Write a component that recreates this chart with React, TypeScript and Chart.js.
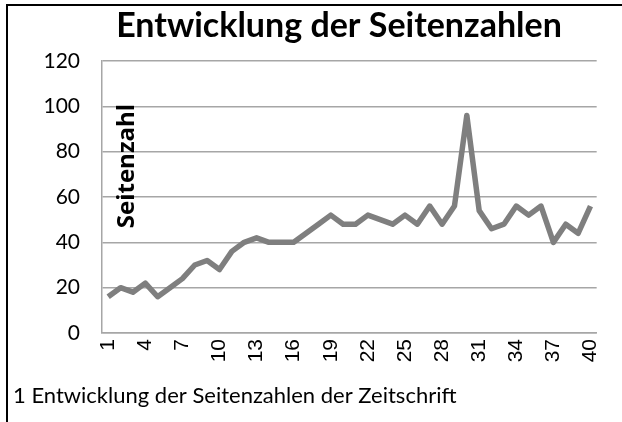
import { useEffect, useRef } from "react";
import { Chart, registerables } from "chart.js";

Chart.register(...registerables);

const issues = ["1","2","3","4","5","6","7","8","9","10","11","12","13","14","15","16","17","18","19","20","21","22","23","24","25","26","27","28","29","30","31","32","33","34","35","36","37","38","39","40"];
const pageCounts = [16,20,18,22,16,20,24,30,32,28,36,40,42,40,40,40,44,48,52,48,48,52,50,48,52,48,56,48,56,96,54,46,48,56,52,56,40,48,44,56];
const shownIssueLabels = ["1","4","7","10","13","16","19","22","25","28","31","34","37","40"];
const yMin = 0;
const yMax = 120;
const yStep = 20;

const chartTitle = "Entwicklung der Seitenzahlen";
const axisTitle = "Seitenzahl";
const caption = "1 Entwicklung der Seitenzahlen der Zeitschrift";

const textPlugin = {
  id: "textPlugin",
  beforeDraw(chart: any) {
    const ctx = chart.ctx;
    ctx.save();
    ctx.fillStyle = "#ffffff";
    ctx.fillRect(0, 0, chart.width, chart.height);
    ctx.strokeStyle = "#000000";
    ctx.lineWidth = 2;
    ctx.beginPath();
    ctx.moveTo(6, 5);
    ctx.lineTo(chart.width, 5);
    ctx.moveTo(7, 4);
    ctx.lineTo(7, chart.height);
    ctx.stroke();
    ctx.restore();
  },
  afterDraw(chart: any) {
    const ctx = chart.ctx;
    ctx.save();
    ctx.fillStyle = "#000000";
    ctx.textBaseline = "middle";
    ctx.textAlign = "center";
    ctx.font = "bold 34px Lato";
    ctx.fillText(chartTitle, 339, 26);

    ctx.textAlign = "left";
    ctx.font = "22px Lato";
    ctx.fillText(caption, 13, 396);

    ctx.translate(127, 166);
    ctx.rotate(-Math.PI / 2);
    ctx.textAlign = "center";
    ctx.font = "bold 24px 'Open Sans'";
    ctx.fillText(axisTitle, 0, 0);
    ctx.restore();
  },
};

export default function App() {
  const ref = useRef<HTMLCanvasElement | null>(null);
  useEffect(() => {
    document.body.style.margin = "0";
    const canvas = ref.current!;
    const chart = new Chart(canvas, {
      type: "line",
      data: {
        labels: issues,
        datasets: [
          {
            data: pageCounts,
            borderColor: "#7f7f7f",
            borderWidth: 5.5,
            borderJoinStyle: "round",
            pointRadius: 0,
            tension: 0,
            fill: false,
          },
        ],
      },
      options: {
        responsive: false,
        animation: false,
        layout: { padding: { left: 0, top: 61, right: 25, bottom: 44 } },
        plugins: { legend: { display: false }, title: { display: false }, tooltip: { enabled: false } },
        scales: {
          x: {
            offset: true,
            grid: { display: false, drawTicks: false },
            border: { display: true, color: "#a6a6a6", width: 1.5 },
            ticks: {
              autoSkip: false,
              minRotation: 90,
              maxRotation: 90,
              padding: 6,
              color: "#000000",
              font: { family: "Liberation Sans", size: 21 },
              callback: (_v: any, i: number) => (shownIssueLabels.includes(issues[i]) ? issues[i] : ""),
            },
            afterFit: (s: any) => {
              s.height = 45;
            },
          },
          y: {
            min: yMin,
            max: yMax,
            grid: { color: "#a6a6a6", lineWidth: 1.5, drawTicks: false },
            border: { display: true, color: "#a6a6a6", width: 1.5 },
            ticks: {
              stepSize: yStep,
              padding: 22,
              color: "#000000",
              font: { family: "Lato", size: 21 },
            },
            afterFit: (s: any) => {
              s.width = 102;
            },
          },
        },
      },
      plugins: [textPlugin],
    });
    return () => chart.destroy();
  }, []);
  return <canvas ref={ref} width={622} height={422} style={{ display: "block" }} />;
}
